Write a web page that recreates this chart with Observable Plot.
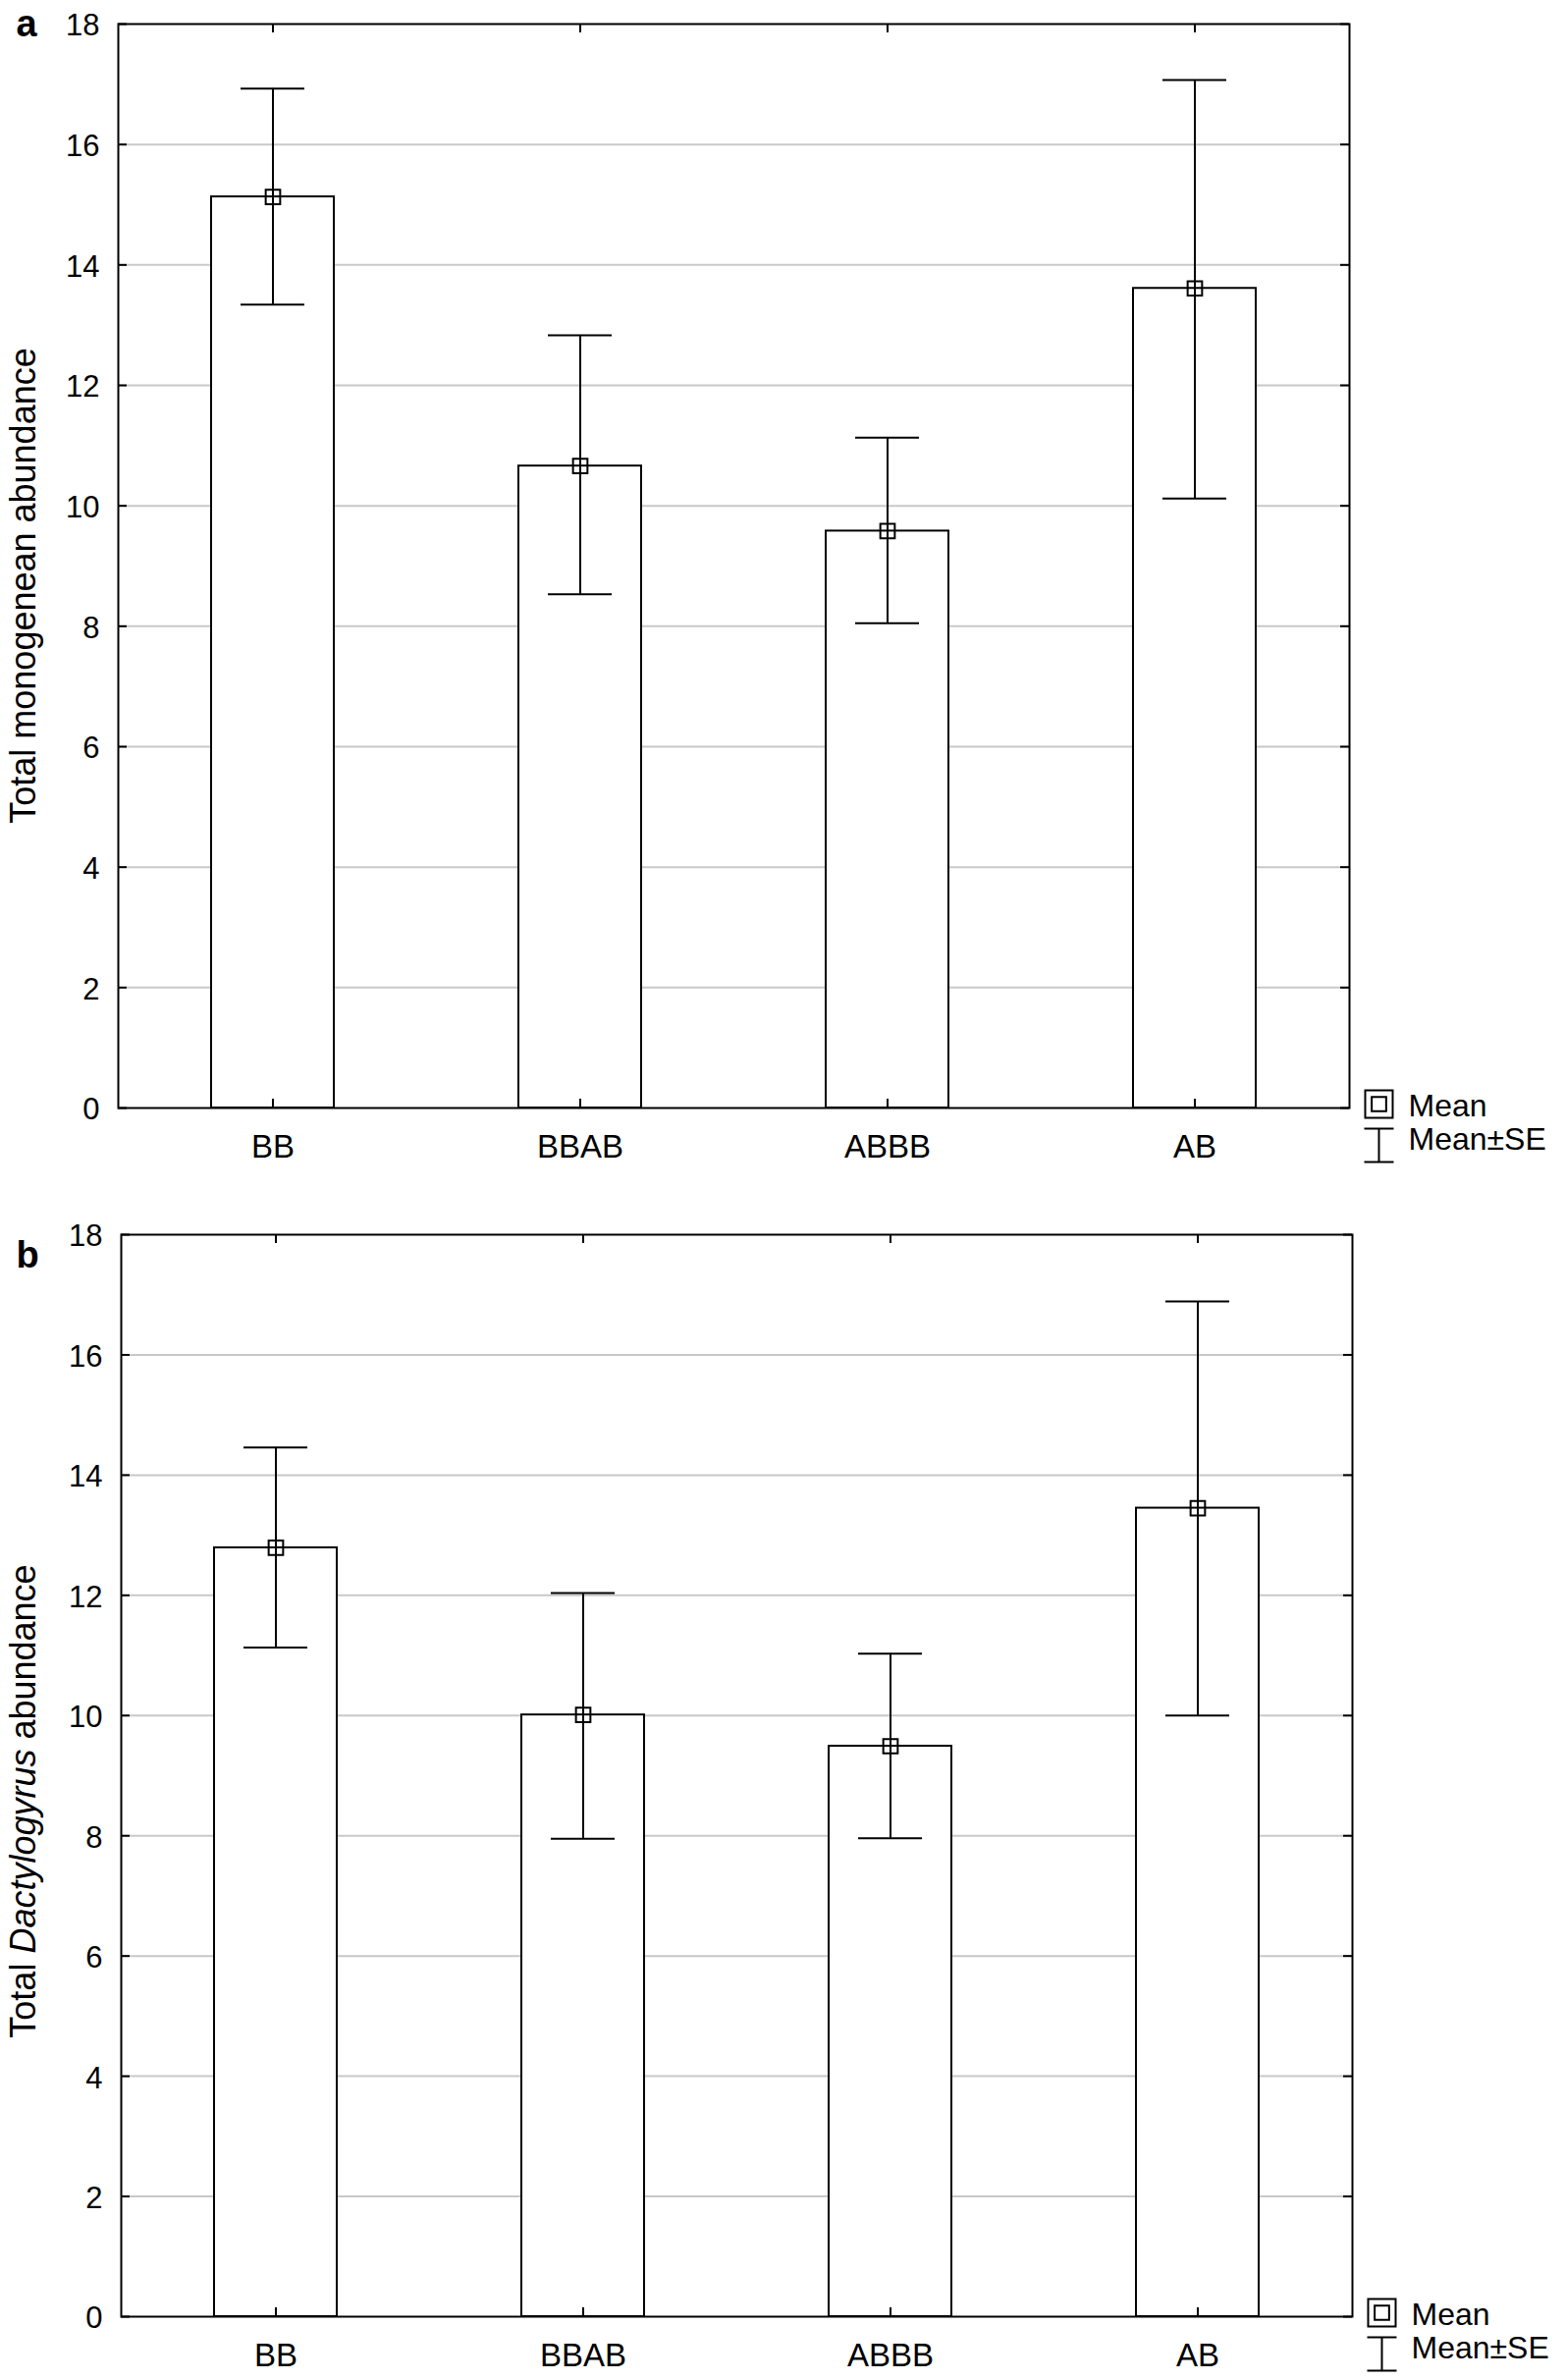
<!DOCTYPE html>
<html>
<head>
<meta charset="utf-8">
<script src="https://cdn.jsdelivr.net/npm/d3@7"></script>
<script src="https://cdn.jsdelivr.net/npm/@observablehq/plot@0.6"></script>
<style>
html, body { margin: 0; padding: 0; background: #fff; }
#chart { width: 1594px; }
#chart svg { display: block; }
</style>
</head>
<body>
<div id="chart"></div>
<script>
// ---- data ----
const categories = ["BB", "BBAB", "ABBB", "AB"];

const monoMean = [15.13, 10.66, 9.58, 13.61];
const monoLow  = [13.34, 8.53, 8.05, 10.12];
const monoHigh = [16.93, 12.83, 11.13, 17.07];

const dactMean = [12.79, 10.01, 9.49, 13.45];
const dactLow  = [11.13, 7.95, 7.96, 10.00];
const dactHigh = [14.46, 12.04, 11.03, 16.89];

const yTicks = [0, 2, 4, 6, 8, 10, 12, 14, 16, 18];
const gridValues = [2, 4, 6, 8, 10, 12, 14, 16];
const legendLabels = ["Mean", "Mean±SE"];
const titleA = "Total monogenean abundance";
const titleB = "Total Dactylogyrus abundance";
const titleBParts = ["Total ", "Dactylogyrus", " abundance"];
const titleBItalic = [false, true, false];
const panelLetters = ["a", "b"];

// ---- drawing ----
const FONT = "'Liberation Sans', Arial, Helvetica, sans-serif";
const W = 1594;

const ibeam = {
  draw(context) {
    context.moveTo(-15, -17); context.lineTo(15, -17);
    context.moveTo(0, -17); context.lineTo(0, 17);
    context.moveTo(-15, 17); context.lineTo(15, 17);
  }
};

function panel(o) {
  const data = categories.map((c, i) => ({cat: c, mean: o.means[i], lo: o.lows[i], hi: o.highs[i]}));
  const fw = W - o.marginLeft - o.marginRight;
  const fh = o.height - o.marginTop - o.marginBottom;
  const tick = 9;
  const capInset = 30;
  const line = {stroke: "black", strokeWidth: 2};
  return Plot.plot({
    width: W,
    height: o.height,
    marginLeft: o.marginLeft,
    marginRight: o.marginRight,
    marginTop: o.marginTop,
    marginBottom: o.marginBottom,
    style: {fontFamily: FONT, background: "white", color: "black", overflow: "visible"},
    x: {domain: categories, paddingInner: 0.6, paddingOuter: 0.3, axis: null},
    y: {domain: [0, 18], axis: null},
    marks: [
      Plot.ruleY(gridValues, {stroke: "#c8c8c8", strokeWidth: 2}),
      Plot.barY(data, {x: "cat", y: "mean", fill: "white", ...line}),
      Plot.ruleX(data, {x: "cat", y1: "lo", y2: "hi", ...line}),
      Plot.tickY(data, {x: "cat", y: "hi", insetLeft: capInset, insetRight: capInset, ...line}),
      Plot.tickY(data, {x: "cat", y: "lo", insetLeft: capInset, insetRight: capInset, ...line}),
      Plot.dot(data, {x: "cat", y: "mean", symbol: "square", r: 8.3, fill: "none", ...line}),
      Plot.frame(line),
      Plot.ruleY(yTicks, {insetRight: fw - tick, ...line}),
      Plot.ruleY(yTicks, {insetLeft: fw - tick, ...line}),
      Plot.ruleX(categories, {insetBottom: fh - tick, ...line}),
      Plot.ruleX(categories, {insetTop: fh - tick, ...line}),
      Plot.axisY(yTicks, {tickSize: 0, tickPadding: 19, fontSize: 31, label: null, dy: 2, tickFormat: d => String(d)}),
      Plot.axisX({tickSize: 0, tickPadding: 27, fontSize: 33, label: null}),
      Plot.text([o.title], {frameAnchor: "left", textAnchor: "middle", lineAnchor: "middle", rotate: -90, dx: 24 - o.marginLeft, dy: o.titleDy, fontSize: 36, fill: "black"}),
      Plot.text([o.letter], {frameAnchor: "top-left", textAnchor: "start", lineAnchor: "bottom", dx: 16 - o.marginLeft, dy: o.letterDy, fontSize: 38, fontWeight: "bold", fill: "black"}),
      // legend
      Plot.dot([0], {frameAnchor: "bottom-right", dx: 30, dy: -4, symbol: "square", r: 15.8, fill: "none", ...line}),
      Plot.dot([0], {frameAnchor: "bottom-right", dx: 30, dy: -4, symbol: "square", r: 8.3, fill: "none", ...line}),
      Plot.dot([0], {frameAnchor: "bottom-right", dx: 30, dy: 38, symbol: ibeam, r: 5, fill: "none", ...line}),
      Plot.text([legendLabels[0]], {frameAnchor: "bottom-right", textAnchor: "start", lineAnchor: "bottom", dx: 60, dy: 8, fontSize: 32, fill: "black"}),
      Plot.text([legendLabels[1]], {frameAnchor: "bottom-right", textAnchor: "start", lineAnchor: "bottom", dx: 60, dy: 42, fontSize: 32, fill: "black"})
    ]
  });
}

const chart = document.getElementById("chart");

const svgA = panel({
  means: monoMean, lows: monoLow, highs: monoHigh,
  title: titleA, letter: panelLetters[0],
  height: 1208, marginLeft: 120, marginRight: 220, marginTop: 24, marginBottom: 80,
  letterDy: 12, titleDy: 20
});
chart.appendChild(svgA);

const svgB = panel({
  means: dactMean, lows: dactLow, highs: dactHigh,
  title: titleB, letter: panelLetters[1],
  height: 1216, marginLeft: 123, marginRight: 217, marginTop: 49, marginBottom: 65,
  letterDy: 33, titleDy: 26
});
chart.appendChild(svgB);

// italicise the genus name in panel b's title
svgB.querySelectorAll("text").forEach(t => {
  if (t.textContent === titleB) {
    t.textContent = "";
    titleBParts.forEach((p, i) => {
      const ts = document.createElementNS("http://www.w3.org/2000/svg", "tspan");
      ts.textContent = p;
      if (titleBItalic[i]) ts.setAttribute("font-style", "italic");
      t.appendChild(ts);
    });
  }
});
</script>
</body>
</html>
